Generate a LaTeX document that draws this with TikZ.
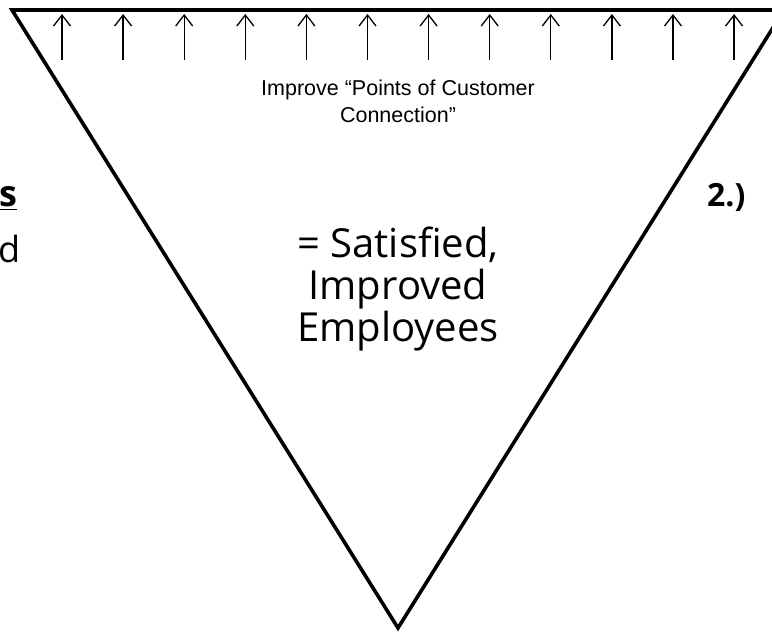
\documentclass[tikz,border=0pt]{standalone}
\usepackage{fontspec}
\setmainfont{Liberation Sans}
\newfontfamily\bodyfont{Open Sans}
\usetikzlibrary{arrows.meta}

\tikzset{
  funnel/.style={line width=3.6pt, line join=miter},
  upmark/.style={line width=1.3pt, -{Straight Barb[length=11pt,width=17pt,line width=1.3pt]}},
  smalltext/.style={font=\fontsize{21.5}{27}\selectfont, align=center},
  bigtext/.style={font=\bodyfont\fontsize{40}{42}\selectfont, align=center},
  sidetext/.style={font=\bodyfont\fontsize{36}{42}\selectfont, inner sep=0pt}
}

\begin{document}
\begin{tikzpicture}[x=1pt,y=1pt]
  \useasboundingbox (0,0) rectangle (772,632);
  \clip (0,0) rectangle (772,632);

  \coordinate (tl) at (12,622); \coordinate (tip) at (398,4);
  \coordinate (tr) at (784,622);
  \draw[funnel] (tr) -- (tl) -- (tip) -- (tr);

  \foreach \i in {0,...,11} {
    \coordinate (b\i) at (62+61.1*\i,572);
    \coordinate (t\i) at (62+61.1*\i,618);
    \draw[upmark] (b\i) -- (t\i);
  }

  \node[smalltext] (points) at (398,531) {Improve “Points of Customer\\Connection”};
  \node[bigtext] (result) at (398,343) {= Satisfied,\\Improved\\Employees};

  \node[sidetext, anchor=base west] (lefts) at (-1,425) {\bfseries\underline{s}};
  \node[sidetext, anchor=base west] (leftd) at (-2,369) {d};
  \node[sidetext, anchor=base west, font=\bodyfont\bfseries\fontsize{32}{40}\selectfont] (two) at (707,425) {2.)};
\end{tikzpicture}
\end{document}
